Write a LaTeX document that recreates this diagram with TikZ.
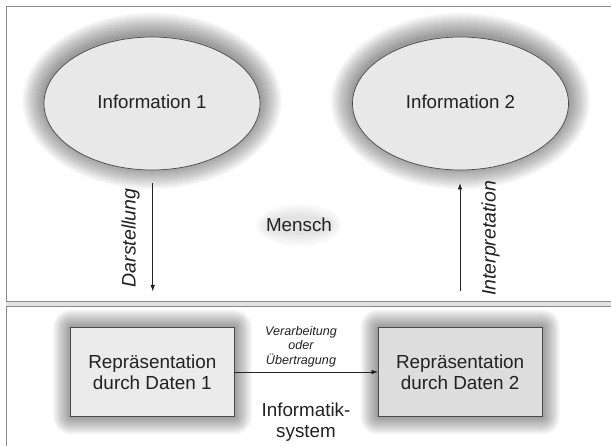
\documentclass[tikz,border=0pt]{standalone}
\usepackage{fontspec}
\setmainfont{Liberation Sans}
\usetikzlibrary{shapes.geometric,arrows.meta}

\definecolor{txt}{HTML}{222222}
\definecolor{edgegray}{HTML}{4A4A4A}
\definecolor{panelgray}{HTML}{8A8A8A}
\definecolor{bandgray}{HTML}{E2E2E2}
\definecolor{ellfill}{HTML}{E8E8E8}
\definecolor{boxfillA}{HTML}{EBEBEB}
\definecolor{boxfillB}{HTML}{DDDDDD}

% soft halo round an ellipse: centre, x radius, y radius, layers, opacity per layer
\newcommand\ellhalo[5]{%
  \foreach \k in {1,...,#4}{%
    \fill[black,opacity=#5] (#1) ellipse [x radius={#2pt+1pt*\k}, y radius={#3pt+1pt*\k}];}}
% soft halo round a rectangle: two corners
\newcommand\recthalo[2]{%
  \foreach \k in {1,...,18}{%
    \fill[black,opacity=0.024,rounded corners={1pt*\k}]
      ([shift={(-\k,-\k)}]#1) rectangle ([shift={(\k,\k)}]#2);}}

\begin{document}
\begin{tikzpicture}[x=1pt,y=-1pt,
  infoshape/.style={ellipse, draw=edgegray, line width=0.7pt, fill=ellfill,
    minimum width=216pt, minimum height=133pt, inner sep=0pt, text=txt,
    font=\fontsize{18.7}{21}\selectfont},
  databox/.style={rectangle, draw=edgegray, line width=0.7pt,
    minimum width=163.5pt, minimum height=89.5pt, inner sep=0pt, align=center,
    text=txt, font=\fontsize{18.9}{20.7}\selectfont},
  flow/.style={draw=txt, line width=0.8pt, -{Latex[length=6.5pt,width=4.5pt]}},
  panel/.style={draw=panelgray, line width=0.9pt},
  sidelabel/.style={rotate=90, text=txt, inner sep=0pt,
    font=\fontsize{19.5}{22}\selectfont\itshape},
  plainlabel/.style={text=txt, align=center, inner sep=0pt,
    font=\fontsize{18.8}{21.3}\selectfont},
  smalllabel/.style={text=txt, align=center, inner sep=0pt,
    font=\fontsize{12.6}{14.7}\selectfont\itshape}]

\useasboundingbox (0,0) rectangle (611,446);
\fill[white] (0,0) rectangle (611,446);

% two panels: human side above, system side below
\fill[bandgray] (6,301.5) rectangle (611,306);
\draw[panel] (611,6) -- (6,6) -- (6,301.5) -- (611,301.5);
\draw[panel] (611,306) -- (6,306) -- (6,446);

% halos behind the shapes
\ellhalo{152,101}{108}{66.5}{22}{0.019}
\ellhalo{460.5,101}{108}{66.5}{22}{0.019}
\recthalo{70.7,327.3}{234,416.7}
\recthalo{378,327.3}{542.3,416.7}
\ellhalo{299,225}{30}{8}{14}{0.006}

% information ellipses
\node[infoshape] (info1) at (152,103.5) {\raisebox{4pt}{Information 1}};
\node[infoshape] (info2) at (460.5,103.5) {\raisebox{4pt}{Information 2}};

% data boxes
\node[databox, fill=boxfillA] (data1) at (152.35,372) {Repräsentation\\durch Daten 1};
\node[databox, fill=boxfillB] (data2) at (460.15,372) {Repräsentation\\durch Daten 2};

% arrow ends in the upper panel
\coordinate (dtop) at (152.7,183);
\coordinate (dbot) at (152.7,291.5);
\coordinate (itop) at (460,183);
\coordinate (ibot) at (460,291.5);

\draw[flow] (dtop) -- (dbot);
\draw[flow] (ibot) -- (itop);
\draw[flow] (data1.east) -- (data2.west);

% labels
\node[sidelabel] (lbl-d) at (130.5,238) {Darstellung};
\node[sidelabel] (lbl-i) at (490.5,238.5) {Interpretation};
\node[plainlabel] (mensch) at (299,225) {Mensch};
\node[smalllabel] (lbl-v) at (301,346.5) {Verarbeitung\\oder\\Übertragung};
\node[plainlabel] (system) at (306,422) {Informatik-\\system};

\end{tikzpicture}
\end{document}
